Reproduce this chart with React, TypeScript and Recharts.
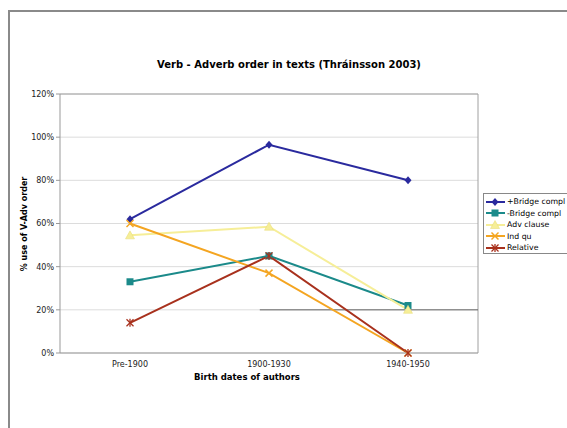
import { LineChart, Line, XAxis, YAxis, CartesianGrid, ReferenceLine } from 'recharts';

const periods = ['Pre-1900', '1900-1930', '1940-1950'];
const bridgeCompl = [62, 96.5, 80];
const nonBridgeCompl = [33, 45, 22];
const advClause = [54.5, 58.5, 20];
const indQu = [60, 37, 0];
const relative = [14, 45, 0];
const yTicks = [0, 20, 40, 60, 80, 100, 120];

const series = [
  { key: 'bridge', name: '+Bridge compl', values: bridgeCompl, color: '#2a2a9e', shape: 'diamond' },
  { key: 'nobridge', name: '-Bridge compl', values: nonBridgeCompl, color: '#1b8a8a', shape: 'square' },
  { key: 'adv', name: 'Adv clause', values: advClause, color: '#f6ee98', shape: 'triangle' },
  { key: 'ind', name: 'Ind qu', values: indQu, color: '#f4a521', shape: 'cross' },
  { key: 'rel', name: 'Relative', values: relative, color: '#a8311d', shape: 'star' },
];

const data = periods.map((period, i) => {
  const row: Record<string, string | number> = { period };
  series.forEach((s) => (row[s.key] = s.values[i]));
  return row;
});

const FONT = '"DejaVu Sans", Verdana, sans-serif';

function Marker({ cx, cy, shape, color }: { cx: number; cy: number; shape: string; color: string }) {
  if (shape === 'diamond')
    return <polygon points={`${cx},${cy - 4} ${cx + 3.5},${cy} ${cx},${cy + 4} ${cx - 3.5},${cy}`} fill={color} />;
  if (shape === 'square') return <rect x={cx - 3.5} y={cy - 3.5} width={7} height={7} fill={color} />;
  if (shape === 'triangle')
    return <polygon points={`${cx},${cy - 4.5} ${cx + 4.5},${cy + 3.5} ${cx - 4.5},${cy + 3.5}`} fill={color} stroke="#e6da70" strokeWidth={0.5} />;
  if (shape === 'cross')
    return (
      <g stroke={color} strokeWidth={1.5}>
        <line x1={cx - 3.5} y1={cy - 3.5} x2={cx + 3.5} y2={cy + 3.5} />
        <line x1={cx - 3.5} y1={cy + 3.5} x2={cx + 3.5} y2={cy - 3.5} />
      </g>
    );
  return (
    <g stroke={color} strokeWidth={1.3}>
      <line x1={cx - 3.5} y1={cy - 3.5} x2={cx + 3.5} y2={cy + 3.5} />
      <line x1={cx - 3.5} y1={cy + 3.5} x2={cx + 3.5} y2={cy - 3.5} />
      <line x1={cx} y1={cy - 4} x2={cx} y2={cy + 4} />
    </g>
  );
}

// stray horizontal rule seen in the original, starting part way across the plot
const PartialLine = (p: any) => {
  const x1 = p.x1 + (p.x2 - p.x1) * 0.478;
  return <line x1={x1} y1={p.y1} x2={p.x2} y2={p.y2} stroke="#666" strokeWidth={1} />;
};

export default function App() {
  return (
    <div style={{ position: 'relative', width: 567, height: 428, background: '#fff', fontFamily: FONT, overflow: 'hidden' }}>
      <style>{`body{margin:0}`}</style>
      <div style={{ position: 'absolute', left: 8, top: 10, width: 600, height: 500, borderTop: '2px solid #8a8a8a', borderLeft: '2px solid #8a8a8a' }} />
      <LineChart width={567} height={428} data={data} margin={{ top: 94, right: 89, left: 8, bottom: 55 }}>
        <CartesianGrid horizontal vertical={false} stroke="#dcdcdc" />
        {/* plot frame: top and right edges */}
        <CartesianGrid
          stroke="#a0a0a0"
          horizontalCoordinatesGenerator={({ offset }: any) => [offset.top]}
          verticalCoordinatesGenerator={({ offset }: any) => [offset.left + offset.width]}
        />
        <ReferenceLine y={20} shape={PartialLine} />
        <XAxis
          dataKey="period"
          height={20}
          padding={{ left: 70, right: 70 }}
          tickLine={false}
          axisLine={{ stroke: '#999' }}
          tick={{ fontSize: 8, fill: '#222', fontFamily: FONT }}
        />
        <YAxis
          width={52}
          domain={[0, 120]}
          ticks={yTicks}
          tickFormatter={(v: number) => `${v}%`}
          tickSize={4}
          tickLine={{ stroke: '#999' }}
          axisLine={{ stroke: '#999' }}
          tick={{ fontSize: 8, fill: '#222', fontFamily: FONT }}
        />
        {series.map((s) => (
          <Line
            key={s.key}
            dataKey={s.key}
            name={s.name}
            stroke={s.color}
            strokeWidth={2}
            isAnimationActive={false}
            dot={(p: any) => <Marker key={`${s.key}-${p.index}`} cx={p.cx} cy={p.cy} shape={s.shape} color={s.color} />}
            activeDot={false}
          />
        ))}
      </LineChart>
      <div style={{ position: 'absolute', left: 0, width: 578, top: 59, textAlign: 'center', fontSize: 10, fontWeight: 'bold' }}>
        Verb - Adverb order in texts (Thráinsson 2003)
      </div>
      <div style={{ position: 'absolute', left: 0, width: 494, top: 372, textAlign: 'center', fontSize: 8.5, fontWeight: 'bold' }}>
        Birth dates of authors
      </div>
      <div
        style={{
          position: 'absolute',
          left: 24,
          top: 224,
          transform: 'translate(-50%, -50%) rotate(-90deg)',
          whiteSpace: 'nowrap',
          fontSize: 8,
          fontWeight: 'bold',
        }}
      >
        % use of V-Adv order
      </div>
      <div
        style={{
          position: 'absolute',
          left: 483,
          top: 193,
          width: 85,
          height: 61,
          border: '1px solid #888',
          background: '#fff',
          paddingTop: 2,
          boxSizing: 'border-box',
        }}
      >
        {series.map((s) => (
          <div key={s.key} style={{ display: 'flex', alignItems: 'center', height: 11.5, fontSize: 7.8 }}>
            <svg width={22} height={12} style={{ flex: 'none' }}>
              <line x1={2} y1={6} x2={21} y2={6} stroke={s.color} strokeWidth={2} />
              <Marker cx={11} cy={6} shape={s.shape} color={s.color} />
            </svg>
            <span style={{ marginLeft: 1, whiteSpace: 'nowrap' }}>{s.name}</span>
          </div>
        ))}
      </div>
    </div>
  );
}
